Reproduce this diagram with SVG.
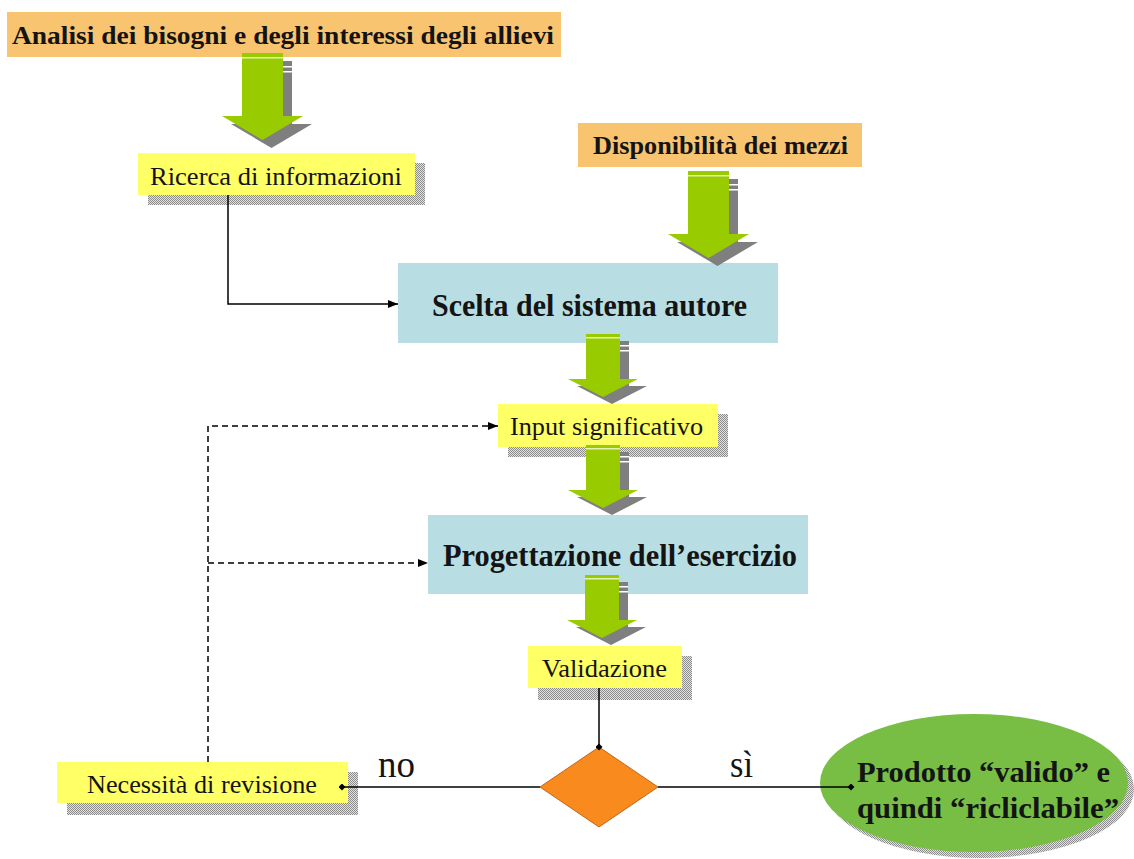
<svg xmlns="http://www.w3.org/2000/svg" xmlns:xlink="http://www.w3.org/1999/xlink" width="1134" height="859" viewBox="0 0 1134 859">
<style>
.tb{font-family:"Liberation Serif","Times New Roman",serif;font-weight:bold;fill:#141414}
.tr{font-family:"Liberation Serif","Times New Roman",serif;fill:#141414}
.yellow{fill:#ffff66}
.orange{fill:#f9c470}
.blue{fill:#b8dde3}
.shadow{fill:url(#dither)}
.line{stroke:#000;stroke-width:1.5;fill:none}
.dash{stroke-dasharray:6 4}
</style>
<defs>
<pattern id="dither" width="2" height="2" patternUnits="userSpaceOnUse">
<rect width="2" height="2" fill="#e2e2e2"/>
<rect width="1" height="1" fill="#8c8c8c"/>
<rect x="1" y="1" width="1" height="1" fill="#8c8c8c"/>
</pattern>
<marker id="arr" viewBox="0 0 10 8" refX="10" refY="4" markerWidth="10" markerHeight="8" markerUnits="userSpaceOnUse" orient="auto">
<path d="M0,0 L10,4 L0,8 Z" fill="#000"/>
</marker>
<marker id="dot" viewBox="0 0 8 8" refX="4" refY="4" markerWidth="7" markerHeight="7" markerUnits="userSpaceOnUse" orient="auto">
<path d="M4,0 L8,4 L4,8 L0,4 Z" fill="#000"/>
</marker>
<g id="arrow-big">
<path d="M9,8 H50 V71 H70 L29.5,95 L-11,71 H9 Z" fill="#7f7f7f"/>
<rect x="41" y="13" width="9" height="1.5" fill="#fff"/>
<rect x="41" y="18" width="9" height="1.5" fill="#fff"/>
<path d="M0,0 H41 V63 H61 L20.5,87 L-20,63 H0 Z" fill="#99cc00"/>
<rect x="0" y="4" width="41" height="1.5" fill="#e6f2b3"/>
</g>
<g id="arrow-small">
<path d="M9,7 H43 V52 H61 L26,70 L-9,52 H9 Z" fill="#7f7f7f"/>
<rect x="34" y="11" width="9" height="1.5" fill="#fff"/>
<rect x="34" y="16" width="9" height="1.5" fill="#fff"/>
<path d="M0,0 H34 V45 H52 L17,63 L-18,45 H0 Z" fill="#99cc00"/>
<rect x="0" y="3" width="34" height="1.5" fill="#e6f2b3"/>
</g>
</defs>
<rect width="1134" height="859" fill="#ffffff"/>

<g id="node-analisi">
<rect class="orange" x="7" y="12" width="554" height="45"/>
<text class="tb" x="12" y="44" font-size="25" textLength="542" lengthAdjust="spacingAndGlyphs">Analisi dei bisogni e degli interessi degli allievi</text>
</g>

<g id="node-disponibilita">
<rect class="orange" x="578" y="123" width="284" height="44"/>
<text class="tb" x="593" y="154" font-size="25" textLength="255" lengthAdjust="spacingAndGlyphs">Disponibilità dei mezzi</text>
</g>

<g id="node-ricerca">
<rect class="shadow" x="148" y="163" width="277" height="42"/>
<rect class="yellow" x="138" y="153" width="277" height="42"/>
<text class="tr" x="150" y="185" font-size="26" textLength="252" lengthAdjust="spacingAndGlyphs">Ricerca di informazioni</text>
</g>

<g id="node-scelta">
<rect class="blue" x="398" y="263" width="380" height="80"/>
<text class="tb" x="432" y="316" font-size="31" textLength="315" lengthAdjust="spacingAndGlyphs">Scelta del sistema autore</text>
</g>

<g id="node-input">
<rect class="shadow" x="508" y="414" width="220" height="43"/>
<rect class="yellow" x="498" y="404" width="220" height="43"/>
<text class="tr" x="510" y="435" font-size="26" textLength="193" lengthAdjust="spacingAndGlyphs">Input significativo</text>
</g>

<g id="node-progettazione">
<rect class="blue" x="428" y="515" width="380" height="79"/>
<text class="tb" x="443" y="566" font-size="32" textLength="354" lengthAdjust="spacingAndGlyphs">Progettazione dell’esercizio</text>
</g>

<g id="node-validazione">
<rect class="shadow" x="538" y="656" width="154" height="44"/>
<rect class="yellow" x="528" y="646" width="154" height="42"/>
<text class="tr" x="542" y="677" font-size="26" textLength="125" lengthAdjust="spacingAndGlyphs">Validazione</text>
</g>

<g id="node-decisione">
<path d="M599,747 L658,787 L599,827 L540,787 Z" fill="#f88a1e" stroke="#c2661a" stroke-width="1"/>
</g>

<g id="node-necessita">
<rect class="shadow" x="67" y="772" width="291" height="43"/>
<rect class="yellow" x="57" y="762" width="291" height="41"/>
<text class="tr" x="87" y="793" font-size="26" textLength="230" lengthAdjust="spacingAndGlyphs">Necessità di revisione</text>
</g>

<g id="node-prodotto">
<ellipse class="shadow" cx="980" cy="789" rx="154" ry="69"/>
<ellipse cx="974" cy="783" rx="154" ry="69" fill="#78be44"/>
<text class="tb" x="857" y="782" font-size="30" textLength="253" lengthAdjust="spacingAndGlyphs">Prodotto “valido” e</text>
<text class="tb" x="857" y="818" font-size="30" textLength="262" lengthAdjust="spacingAndGlyphs">quindi “ricliclabile”</text>
</g>

<g id="connectors">
<use xlink:href="#arrow-big" href="#arrow-big" transform="translate(242,53)"/>
<use xlink:href="#arrow-big" href="#arrow-big" transform="translate(688,171)"/>
<use xlink:href="#arrow-small" href="#arrow-small" transform="translate(586,334)"/>
<use xlink:href="#arrow-small" href="#arrow-small" transform="translate(586,445)"/>
<use xlink:href="#arrow-small" href="#arrow-small" transform="translate(585,575)"/>
<path class="line" d="M228,195 V304 H398" marker-end="url(#arr)"/>
<path class="line dash" d="M208,762 V426 H498" marker-end="url(#arr)"/>
<path class="line dash" d="M208,563 H428" marker-end="url(#arr)"/>
<path class="line" d="M599,688 V747" marker-end="url(#dot)"/>
<path class="line" d="M540,787 H342" marker-end="url(#dot)"/>
<path class="line" d="M658,787 H851" marker-end="url(#dot)"/>
<text class="tr" x="378" y="777" font-size="37" textLength="37" lengthAdjust="spacingAndGlyphs">no</text>
<text class="tr" x="730" y="777" font-size="37" textLength="23" lengthAdjust="spacingAndGlyphs">sì</text>
</g>
</svg>
